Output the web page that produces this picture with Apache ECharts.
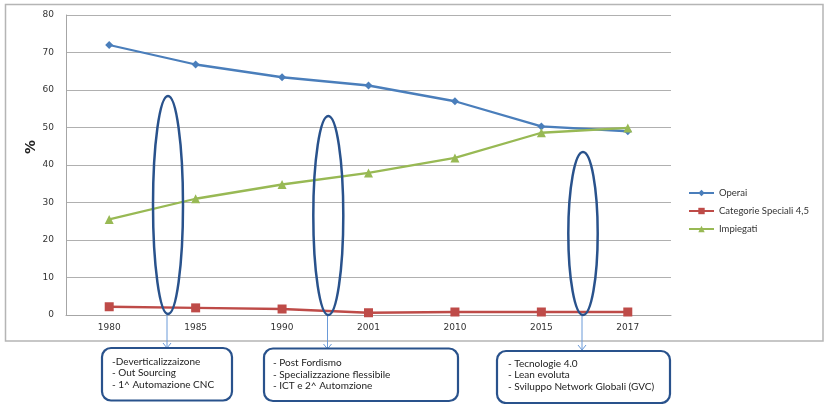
<!DOCTYPE html>
<html>
<head>
<meta charset="utf-8">
<script src="https://cdn.jsdelivr.net/npm/echarts@6/dist/echarts.min.js"></script>
<style>
  html, body { margin: 0; padding: 0; background: #fff; }
  #chart { width: 826px; height: 404px; }
</style>
</head>
<body>
<div id="chart"></div>
<script>
// Quote di occupazione per categoria (%)
const anni = ['1980', '1985', '1990', '2001', '2010', '2015', '2017'];
const operai = [72, 66.8, 63.4, 61.2, 57, 50.3, 49];
const categorieSpeciali = [2.2, 1.9, 1.6, 0.6, 0.8, 0.8, 0.8];
const impiegati = [25.5, 31, 34.8, 37.9, 41.9, 48.6, 49.9];
const yTicks = { min: 0, max: 80, interval: 10 };
const yTitle = '%';

// Note sulle fasi di trasformazione
const fase1 = ['-Deverticalizzaizone', '- Out Sourcing', '- 1^ Automazione CNC'];
const fase2 = ['- Post Fordismo', '- Specializzazione flessibile', '- ICT e 2^ Automzione'];
const fase3 = ['- Tecnologie 4.0', '- Lean evoluta', '- Sviluppo Network Globali (GVC)'];

const ellipseColor = '#29528c';
const arrowColor = '#6a9ad8';
const noteFont = 'Lato, "Open Sans", sans-serif';
const axisFont = '"DejaVu Sans", sans-serif';

function ellipse(cx, cy, rx, ry) {
  return {
    type: 'ellipse', shape: { cx, cy, rx, ry }, z: 100,
    style: { fill: null, stroke: ellipseColor, lineWidth: 2.5 }
  };
}
function arrow(x, y1, y2) {
  return [
    { type: 'line', z: 99, shape: { x1: x, y1: y1, x2: x, y2: y2 },
      style: { stroke: arrowColor, lineWidth: 1 } },
    { type: 'polyline', z: 99, shape: { points: [[x - 4, y2 - 5], [x, y2], [x + 4, y2 - 5]] },
      style: { stroke: arrowColor, lineWidth: 1, fill: null } }
  ];
}
function noteBox(x, y, w, h, lines, tx, ty) {
  return [
    { type: 'rect', z: 100, shape: { x, y, width: w, height: h, r: 9 },
      style: { fill: '#fff', stroke: ellipseColor, lineWidth: 2.2 } },
    { type: 'text', z: 101, x: tx, y: ty,
      style: { text: lines.join('\n'), font: '10px ' + noteFont, fill: '#222', lineHeight: 11.5 } }
  ];
}

const chart = echarts.init(document.getElementById('chart'));
chart.setOption({
  animation: false,
  backgroundColor: '#fff',
  grid: { left: 66, right: 155, top: 15, bottom: 89 },
  legend: {
    orient: 'vertical', left: 683, top: 183,
    itemWidth: 25, itemHeight: 8, itemGap: 8,
    textStyle: { fontSize: 9.5, fontFamily: noteFont, color: '#333' },
    data: ['Operai', 'Categorie Speciali 4,5', 'Impiegati']
  },
  xAxis: {
    type: 'category', data: anni, boundaryGap: true,
    axisLine: { lineStyle: { color: '#a6a6a6', width: 1 } },
    axisTick: { show: false },
    axisLabel: { margin: 8, fontSize: 9, fontFamily: axisFont, color: '#333' }
  },
  yAxis: {
    type: 'value', min: yTicks.min, max: yTicks.max, interval: yTicks.interval,
    axisLine: { show: true, lineStyle: { color: '#a6a6a6' } },
    axisTick: { show: false },
    axisLabel: { margin: 12, fontSize: 9, fontFamily: axisFont, color: '#333' },
    splitLine: { lineStyle: { color: '#b0b0b0', width: 1.2 } }
  },
  series: [
    { name: 'Operai', type: 'line', data: operai, color: '#4a7ebb',
      symbol: 'diamond', symbolSize: 8, lineStyle: { width: 2.3 } },
    { name: 'Categorie Speciali 4,5', type: 'line', data: categorieSpeciali, color: '#be4b48',
      symbol: 'rect', symbolSize: 9, lineStyle: { width: 2.3 } },
    { name: 'Impiegati', type: 'line', data: impiegati, color: '#98b954',
      symbol: 'triangle', symbolSize: 9, lineStyle: { width: 2.3 } }
  ],
  graphic: [
    { type: 'rect', z: -1, silent: true, shape: { x: 5.5, y: 4.5, width: 817.5, height: 336.5 },
      style: { fill: null, stroke: '#b5b5b5', lineWidth: 1.5 } },
    // titolo asse verticale
    { type: 'text', x: 31, y: 147, rotation: Math.PI / 2,
      style: { text: yTitle, font: 'bold 14px ' + axisFont, fill: '#222',
               align: 'center', verticalAlign: 'middle' } },
    ellipse(168, 205, 15, 109),
    ellipse(328.3, 215.5, 15, 99.5),
    ellipse(583, 233.5, 14.7, 81.5),
    ...arrow(167, 315, 348),
    ...arrow(327.5, 315, 349),
    ...arrow(582, 315, 350),
    ...noteBox(102, 348, 130, 52.5, fase1, 112, 356),
    ...noteBox(264, 348.5, 194, 52.5, fase2, 273, 357.5),
    ...noteBox(497, 351, 173, 52, fase3, 508, 358)
  ]
});
</script>
</body>
</html>
